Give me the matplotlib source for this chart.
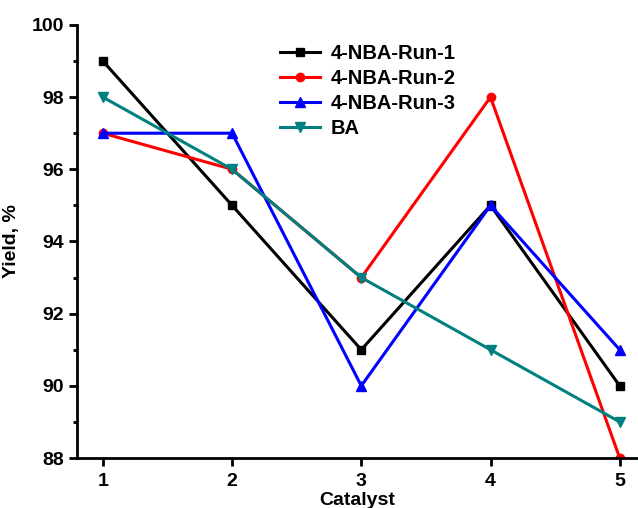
import matplotlib.pyplot as plt
from matplotlib.ticker import MultipleLocator

plt.rcParams['font.family'] = ['Liberation Sans', 'DejaVu Sans']
plt.rcParams['font.weight'] = 'bold'

catalyst = [1, 2, 3, 4, 5]
run1 = [99, 95, 91, 95, 90]
run2 = [97, 96, 93, 98, 88]
run3 = [97, 97, 90, 95, 91]
ba = [98, 96, 93, 91, 89]

fig = plt.figure(figsize=(6.38, 5.08), dpi=100)
ax = fig.add_axes([0.1207, 0.0984, 0.879, 0.8525])

ax.plot(catalyst, run1, color='black', marker='s', ms=6, lw=2.2, label='4-NBA-Run-1')
ax.plot(catalyst, run2, color='red', marker='o', ms=6, lw=2.2, label='4-NBA-Run-2')
ax.plot(catalyst, run3, color='blue', marker='^', ms=7, lw=2.2, label='4-NBA-Run-3')
ax.plot(catalyst, ba, color='#008080', marker='v', ms=7, lw=2.2, label='BA')

ax.set_xlim(0.8, 5.14)
ax.set_ylim(88, 100)
ax.set_xticks(catalyst)
ax.yaxis.set_major_locator(MultipleLocator(2))
ax.yaxis.set_minor_locator(MultipleLocator(1))
ax.spines['top'].set_visible(False)
ax.spines['right'].set_visible(False)
ax.spines['left'].set_linewidth(2)
ax.spines['bottom'].set_linewidth(2)
ax.tick_params(which='major', width=2, length=6, labelsize=14)
ax.tick_params(axis='x', which='major', pad=5)
ax.tick_params(which='minor', width=2, length=3)

ax.set_xlabel('Catalyst', fontsize=14, fontweight='bold', labelpad=1)
ax.set_ylabel('Yield, %', fontsize=14, fontweight='bold', labelpad=8)

ax.legend(loc='upper left', bbox_to_anchor=(0.33, 0.997), frameon=False,
          fontsize=14.5, handlelength=2.0, labelspacing=0.3, handletextpad=0.5)

fig.savefig('out.png', dpi=100)
